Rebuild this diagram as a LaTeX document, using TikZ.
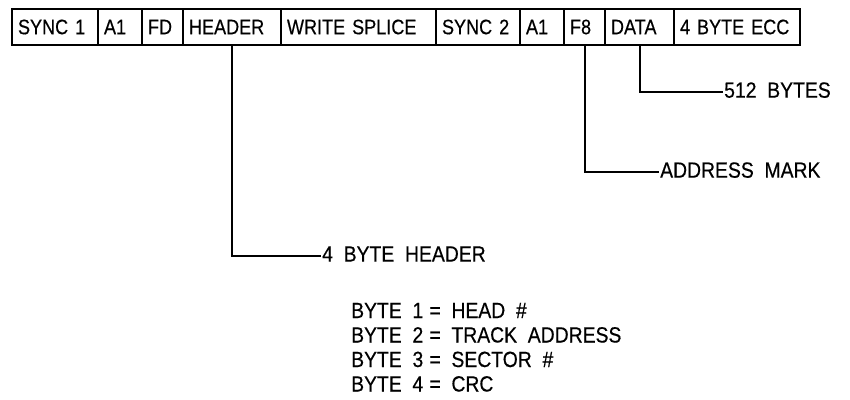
\documentclass[tikz,border=0pt]{standalone}
\usepackage{fontspec}
\newfontfamily\boxfont[FakeStretch=0.86, FakeBold=0.4, WordSpace=1.4]{Liberation Sans}
\newfontfamily\lblfont[FakeStretch=0.88, FakeBold=0.4, WordSpace=2]{Liberation Sans}
\tikzset{
  cell/.style={draw, line width=1.6pt, minimum height=36pt, inner sep=0pt, align=left, font=\boxfont\fontsize{21}{25}\selectfont},
  lbl/.style={anchor=west, inner sep=1pt, text depth=4pt, font=\lblfont\fontsize{22}{26}\selectfont},
  leader/.style={line width=2pt}
}

\begin{document}
\begin{tikzpicture}[x=1pt, y=-1pt]
\useasboundingbox (0,0) rectangle (850,399);
% sector layout
\foreach \l/\r/\n/\t in {12/98/sync1/SYNC 1, 98/142/aone/A1, 142/183/fd/FD, 183/281/hdr/HEADER, 281/436/splice/WRITE SPLICE, 436/520/sync2/SYNC 2, 520/564/atwo/A1, 564/605/feight/F8, 605/674/data/DATA, 674/800/ecc/4 BYTE ECC}
  \node[cell, minimum width={(\r-\l)*1pt}, text width={(\r-\l-12)*1pt}] (\n) at ({(\l+\r)/2}, 27) {\t};
\node[lbl] (datalbl) at (723,92) {512 BYTES}; \draw[leader] (data.south) |- (datalbl.west);
\node[lbl] (marklbl) at (659,172) {ADDRESS MARK}; \draw[leader] (feight.south) |- (marklbl.west);
\node[lbl] (hdrlbl) at (321,256) {4 BYTE HEADER}; \draw[leader] (hdr.south) |- (hdrlbl.west);
% header bytes
\foreach \i/\t in {1/HEAD \#, 2/TRACK ADDRESS, 3/SECTOR \#, 4/CRC}
  \node[lbl, anchor=base west] (byte\i) at (350, {293.5+24.5*\i}) {BYTE \i\;=\ \t};
\end{tikzpicture}
\end{document}
